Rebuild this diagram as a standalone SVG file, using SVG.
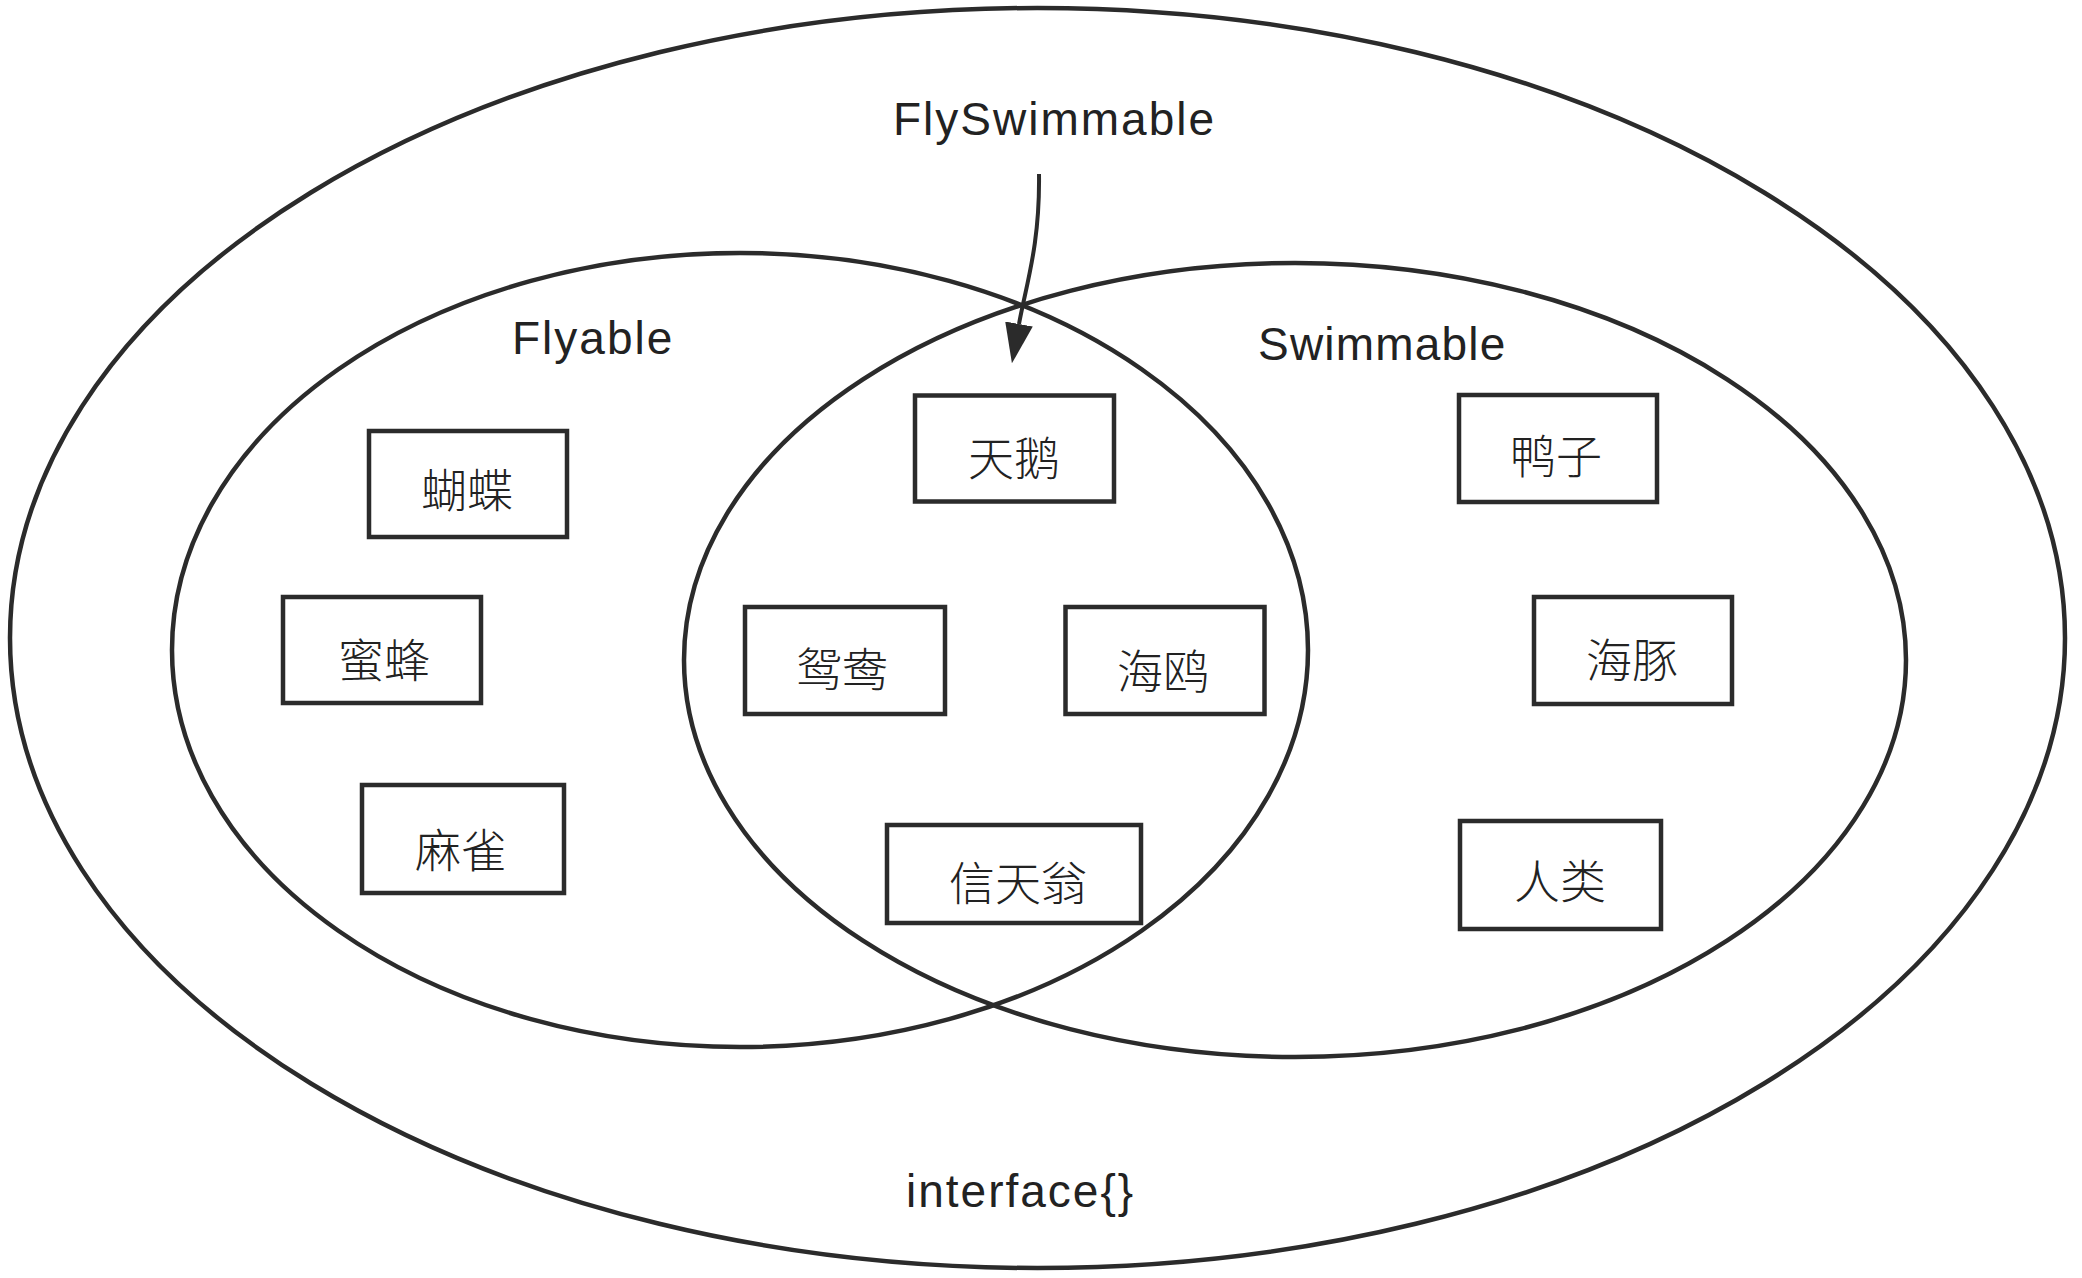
<svg xmlns="http://www.w3.org/2000/svg" width="2082" height="1278" viewBox="0 0 2082 1278">
<style>
.set{fill:none;stroke:#2b2b2b;stroke-width:4.5}
.box{fill:#fff;stroke:#2b2b2b;stroke-width:4.5}
.lbl{font-family:"Liberation Sans",Arial,sans-serif;font-size:46px;letter-spacing:2px;fill:#222}
.cn{font-family:"Noto Sans CJK SC","Noto Sans CJK TC",sans-serif;font-weight:300;font-size:46px;fill:#222;text-anchor:middle}
.conn{fill:none;stroke:#2b2b2b;stroke-width:4}
</style>
<defs>
<marker id="arrow" markerUnits="userSpaceOnUse" markerWidth="42" markerHeight="28" refX="0" refY="14" orient="auto" viewBox="0 0 42 28">
<path d="M0,0 L40,14 L0,28 z" fill="#2b2b2b"/>
</marker>
</defs>
<rect width="2082" height="1278" fill="#fff"/>
<g id="interface-set">
<ellipse class="set" cx="1037.5" cy="638" rx="1027.5" ry="630"/>
<text class="lbl" x="906" y="1207">interface{}</text>
</g>
<g id="flyable-set">
<ellipse class="set" cx="740" cy="650" rx="568" ry="397"/>
<text class="lbl" x="512" y="354">Flyable</text>
</g>
<g id="swimmable-set">
<ellipse class="set" cx="1295" cy="660" rx="611" ry="397"/>
<text class="lbl" x="1258" y="360" style="letter-spacing:1.2px">Swimmable</text>
</g>
<g id="flyswimmable-label">
<text class="lbl" x="893" y="135">FlySwimmable</text>
</g>
<g id="connectors">
<path class="conn" d="M1039,174 C1040,245 1026,285 1019,324" marker-end="url(#arrow)"/>
</g>
<g id="node-hudie"><rect class="box" x="369" y="431" width="198" height="106"/><text class="cn" x="467" y="507">蝴蝶</text></g>
<g id="node-mifeng"><rect class="box" x="283" y="597" width="198" height="106"/><text class="cn" x="384" y="677">蜜蜂</text></g>
<g id="node-maque"><rect class="box" x="362" y="785" width="202" height="108"/><text class="cn" x="461" y="867">麻雀</text></g>
<g id="node-tiane"><rect class="box" x="915" y="395.5" width="199" height="106"/><text class="cn" x="1014" y="475">天鹅</text></g>
<g id="node-yuanyang"><rect class="box" x="745" y="607" width="200" height="107"/><text class="cn" x="842" y="686">鸳鸯</text></g>
<g id="node-haiou"><rect class="box" x="1065.5" y="607" width="199" height="107"/><text class="cn" x="1163" y="688">海鸥</text></g>
<g id="node-xintianweng"><rect class="box" x="887" y="825" width="254" height="98"/><text class="cn" x="1018" y="900">信天翁</text></g>
<g id="node-yazi"><rect class="box" x="1459" y="395" width="198" height="107"/><text class="cn" x="1556" y="473">鸭子</text></g>
<g id="node-haitun"><rect class="box" x="1534" y="597" width="198" height="107"/><text class="cn" x="1632" y="677">海豚</text></g>
<g id="node-renlei"><rect class="box" x="1460" y="821" width="201" height="108"/><text class="cn" x="1560" y="898">人类</text></g>
</svg>
